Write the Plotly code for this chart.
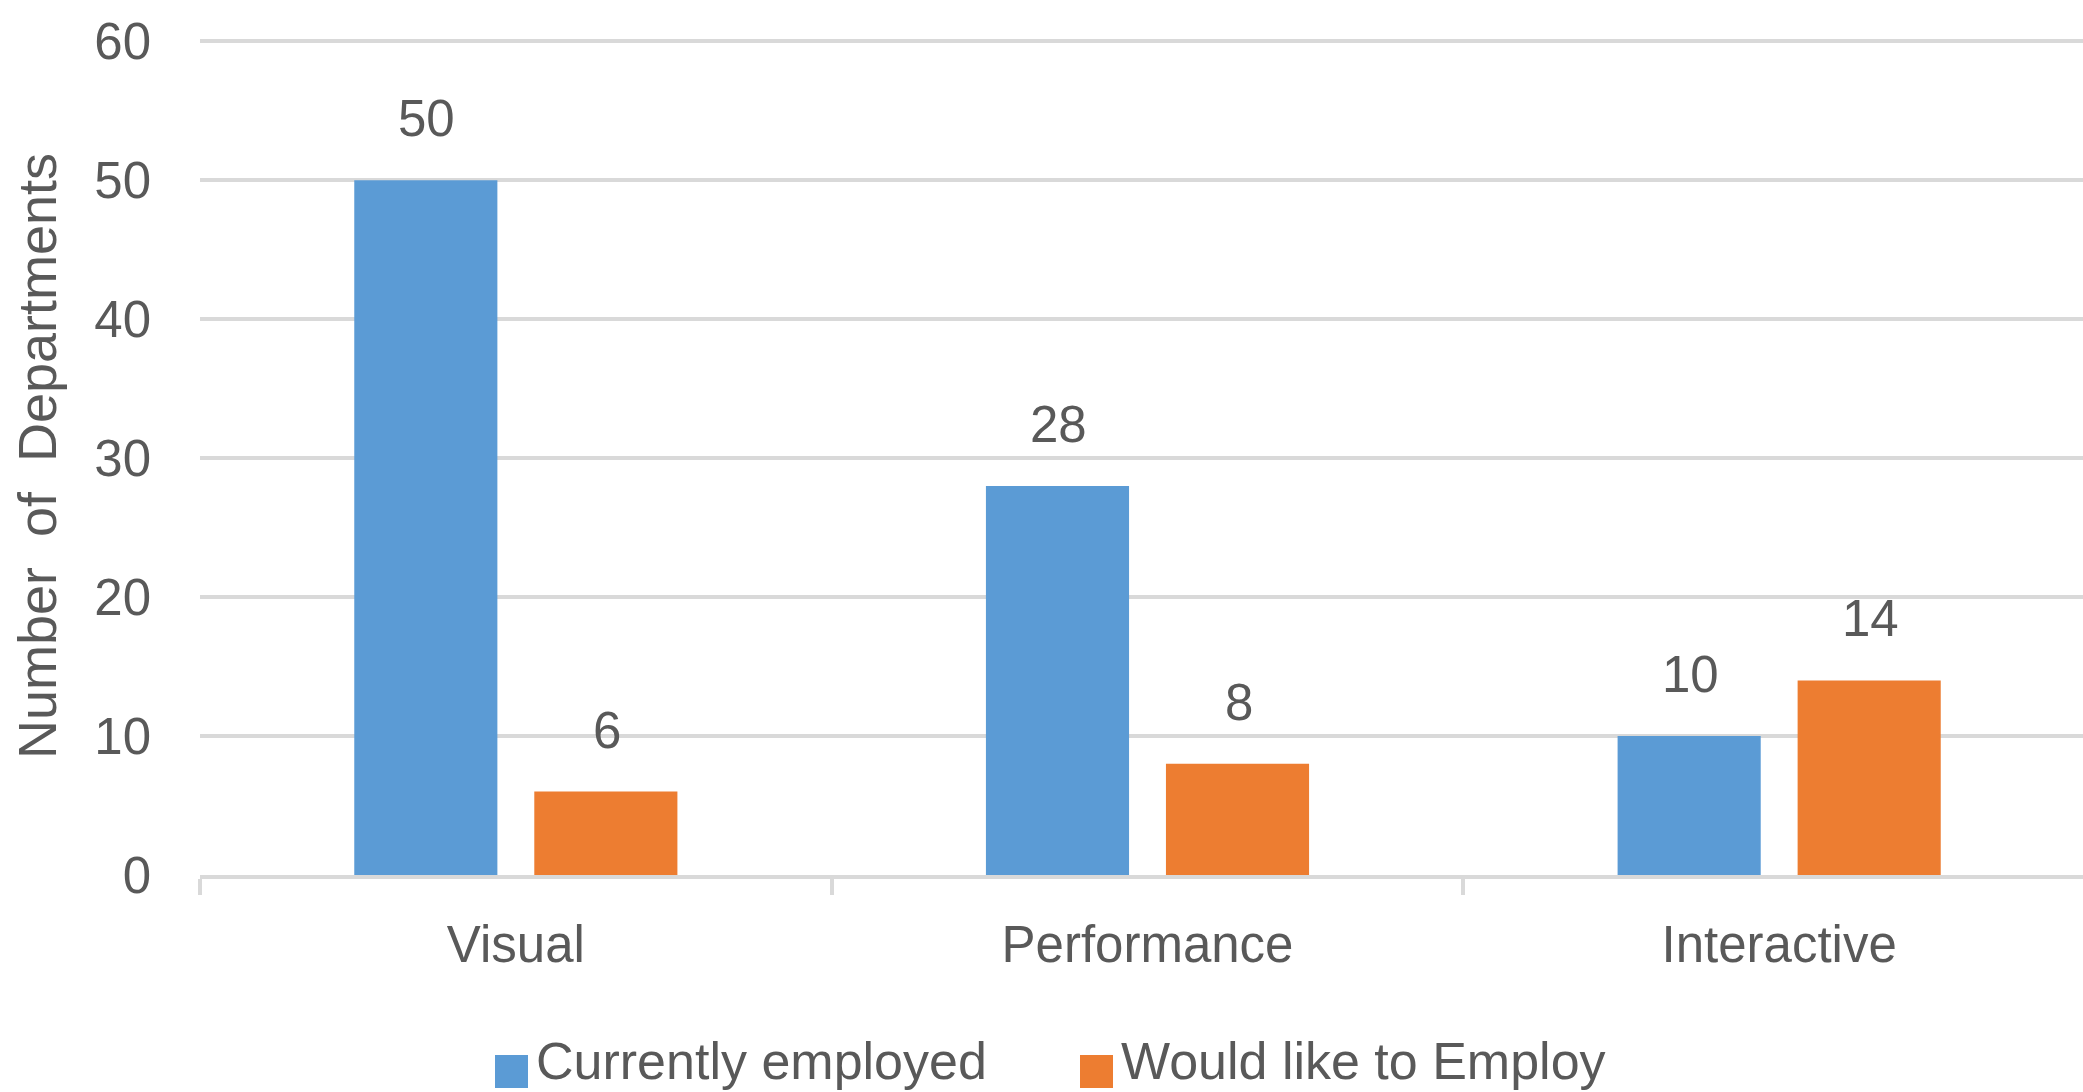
import plotly.graph_objects as go

categories = ["Visual", "Performance", "Interactive"]
series_names = ["Currently employed", "Would like to Employ"]
currently_employed = [50, 28, 10]
would_like_to_employ = [6, 8, 14]
series_values = [currently_employed, would_like_to_employ]
colors = ["#5B9BD5", "#ED7D31"]
y_ticks = [0, 10, 20, 30, 40, 50, 60]

W, H = 2083, 1092
L, R, T, B = 200, 0, 37, 217
FONT = "Liberation Sans, Arial, sans-serif"
TXT = "#595959"
GRID = "#D9D9D9"
FS = 51

fig = go.Figure()
for name, vals, col in zip(series_names, series_values, colors):
    fig.add_trace(go.Bar(x=categories, y=vals, name=name, marker_color=col,
                         marker_line_width=0, showlegend=False))

# data labels
for i, vals in enumerate(series_values):
    for cat, v in zip(categories, vals):
        fig.add_annotation(x=cat, y=v, text=str(v), showarrow=False,
                           xshift=(-89 if i == 0 else 91), yshift=31,
                           yanchor="bottom", font=dict(family=FONT, size=FS, color=TXT))

# manual legend (large squares as in the reference)
pw = W - L - R
ph = H - T - B
def px2x(px):
    return (px - L) / pw
def py2y(py):
    return (H - B - py) / ph
leg_sq = [(495, 528), (1080, 1113)]
for (x0, x1), col, name in zip(leg_sq, colors, series_names):
    fig.add_shape(type="rect", xref="paper", yref="paper",
                  x0=px2x(x0), x1=px2x(x1), y0=py2y(1088), y1=py2y(1055),
                  fillcolor=col, line_width=0)
    fig.add_annotation(xref="paper", yref="paper", x=px2x(x1 + 6), y=py2y(1061),
                       text=name, showarrow=False, xanchor="left", yanchor="middle",
                       font=dict(family=FONT, size=FS + 1, color=TXT))

fig.update_layout(
    width=W, height=H,
    margin=dict(l=L, r=R, t=T, b=B, pad=0),
    plot_bgcolor="white", paper_bgcolor="white",
    barmode="group", bargap=0.43, bargroupgap=0.205,
    font=dict(family=FONT, size=FS, color=TXT),
    showlegend=False,
)
fig.update_xaxes(range=[-0.5, 2.481],
                 showline=True, linecolor=GRID, linewidth=4,
                 ticks="outside", ticklen=16, tickwidth=4, tickcolor=GRID,
                 tickson="boundaries", showgrid=False,
                 tickfont=dict(family=FONT, size=FS, color=TXT),
                 ticklabelstandoff=22)
fig.update_yaxes(range=[0, 60.3], tickvals=y_ticks, ticktext=[str(t) for t in y_ticks],
                 showgrid=True, gridcolor=GRID, gridwidth=4,
                 zeroline=False, showline=False, ticks="",
                 ticklabelstandoff=48,
                 tickfont=dict(family=FONT, size=FS, color=TXT),
                 title=dict(text="Number\u00a0\u00a0of\u00a0\u00a0Departments", standoff=20,
                            font=dict(family=FONT, size=54, color=TXT)))

fig.write_html("out.html", config={"displayModeBar": False},
               post_script="document.body.style.margin='0px';")
